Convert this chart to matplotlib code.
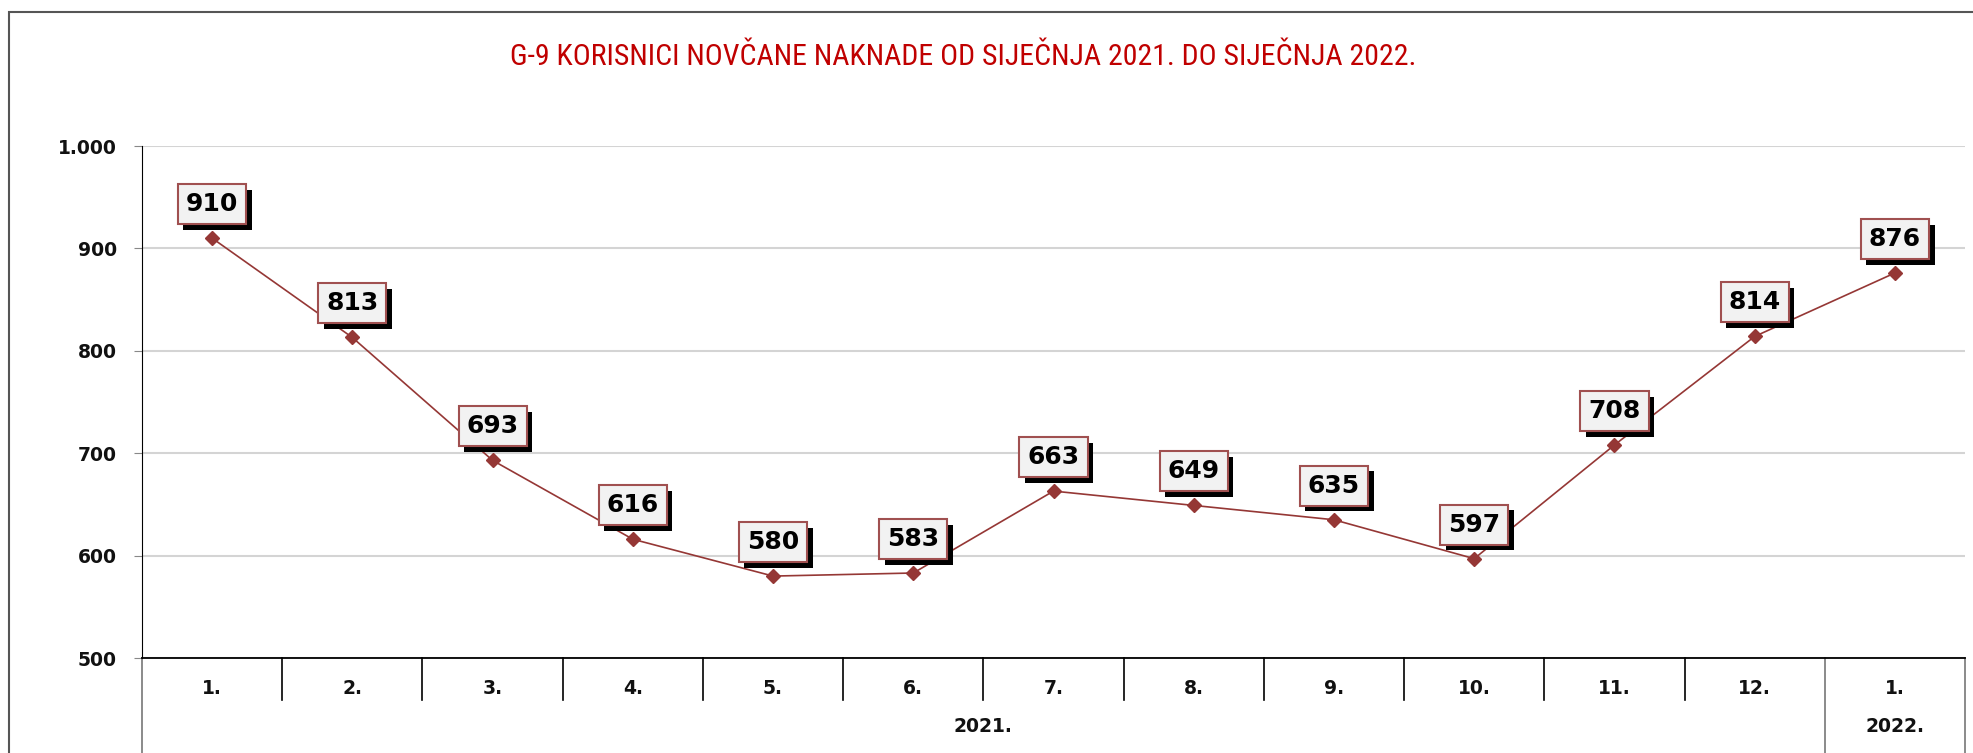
import matplotlib
matplotlib.use("Agg")
import matplotlib.pyplot as plt
from matplotlib.transforms import blended_transform_factory
from matplotlib.patches import Rectangle
from matplotlib import font_manager
import matplotlib.patheffects as pe

months = ["1.", "2.", "3.", "4.", "5.", "6.", "7.", "8.", "9.", "10.", "11.", "12.", "1."]
years = ["2021.", "2022."]
year_spans = [(0, 11), (12, 12)]
values = [910, 813, 693, 616, 580, 583, 663, 649, 635, 597, 708, 814, 876]
yticks = [500, 600, 700, 800, 900, 1000]
title = "G-9 KORISNICI NOVČANE NAKNADE OD SIJEČNJA 2021. DO SIJEČNJA 2022."

W, H = 1973, 753
fig = plt.figure(figsize=(W / 100, H / 100), dpi=100)
fig.patch.set_facecolor("white")

# outer frame
fig.patches.append(Rectangle((9 / W, -0.05), 1.2, 1 - 12 / H + 0.05, transform=fig.transFigure,
                             fill=False, edgecolor="#555555", linewidth=1.5))

left, right = 142 / W, 1965 / W
top, bottom = 1 - 146 / H, 1 - 658 / H
ax = fig.add_axes([left, bottom, right - left, top - bottom])

x = list(range(len(values)))
ax.plot(x, values, color="#953735", linewidth=1.2, marker="D", markersize=7,
        markerfacecolor="#953735", markeredgecolor="#953735", zorder=3)

ax.set_xlim(-0.5, len(values) - 0.5)
ax.set_ylim(500, 1000)
ax.set_yticks(yticks)
ax.set_yticklabels([f"{v:,}".replace(",", ".") for v in yticks],
                   fontsize=13.5, fontweight="bold", color="#111111")
ax.tick_params(axis="y", length=6, color="#888888", pad=12)
ax.set_xticks([])
ax.grid(axis="y", color="#d4d4d4", linewidth=1.5)
ax.set_axisbelow(True)
for s in ["top", "right"]:
    ax.spines[s].set_visible(False)
ax.spines["left"].set_color("black")
ax.spines["bottom"].set_color("black")
ax.spines["bottom"].set_linewidth(1.3)

tr = blended_transform_factory(ax.transData, ax.transAxes)
yr_short = (658 - 700) / 512
yr_long = (658 - 760) / 512
for i, m in enumerate(months):
    ax.text(i, (658 - 688) / 512, m, transform=tr, ha="center", va="center",
            fontsize=13.5, fontweight="bold", color="#111111")
long_idx = set()
for a, b in year_spans:
    long_idx.add(a)
    long_idx.add(b + 1)
for k in range(len(values) + 1):
    y2 = yr_long if k in long_idx else yr_short
    col = "#777777" if k in long_idx else "black"
    ax.plot([k - 0.5, k - 0.5], [0, y2], transform=tr, color=col, linewidth=1.2, clip_on=False)
for (a, b), yl in zip(year_spans, years):
    ax.text((a + b) / 2, (658 - 727) / 512, yl, transform=tr, ha="center", va="center",
            fontsize=13.5, fontweight="bold", color="#111111")

# data labels with shadowed boxes
for xi, v in zip(x, values):
    t = ax.annotate(str(v), (xi, v), xytext=(0, 24.5), textcoords="offset points",
                    ha="center", va="center", fontsize=18, fontweight="bold", color="black",
                    bbox=dict(boxstyle="square,pad=0.32", facecolor="#f2f2f2", edgecolor="#a05050",
                              linewidth=1.5),
                    zorder=5)
    t.get_bbox_patch().set_path_effects([
        pe.SimplePatchShadow(offset=(4, -4), shadow_rgbFace="black", alpha=1.0),
        pe.Normal()])

names = {f.name for f in font_manager.fontManager.ttflist}
cands = ["Liberation Sans Narrow", "Roboto Condensed", "Open Sans Condensed", "Arial Narrow"]
narrow = [f for f in cands if f in names]
if narrow:
    fig.text(963 / W, 1 - 57 / H, title, ha="center", va="center", fontsize=21.5,
             color="#C00000", family=[narrow[0], "DejaVu Sans"])
else:
    fig.text(963 / W, 1 - 57 / H, title, ha="center", va="center", fontsize=19.5,
             color="#C00000", family=["Roboto", "DejaVu Sans"])

fig.savefig("out.png", dpi=100, facecolor="white")
